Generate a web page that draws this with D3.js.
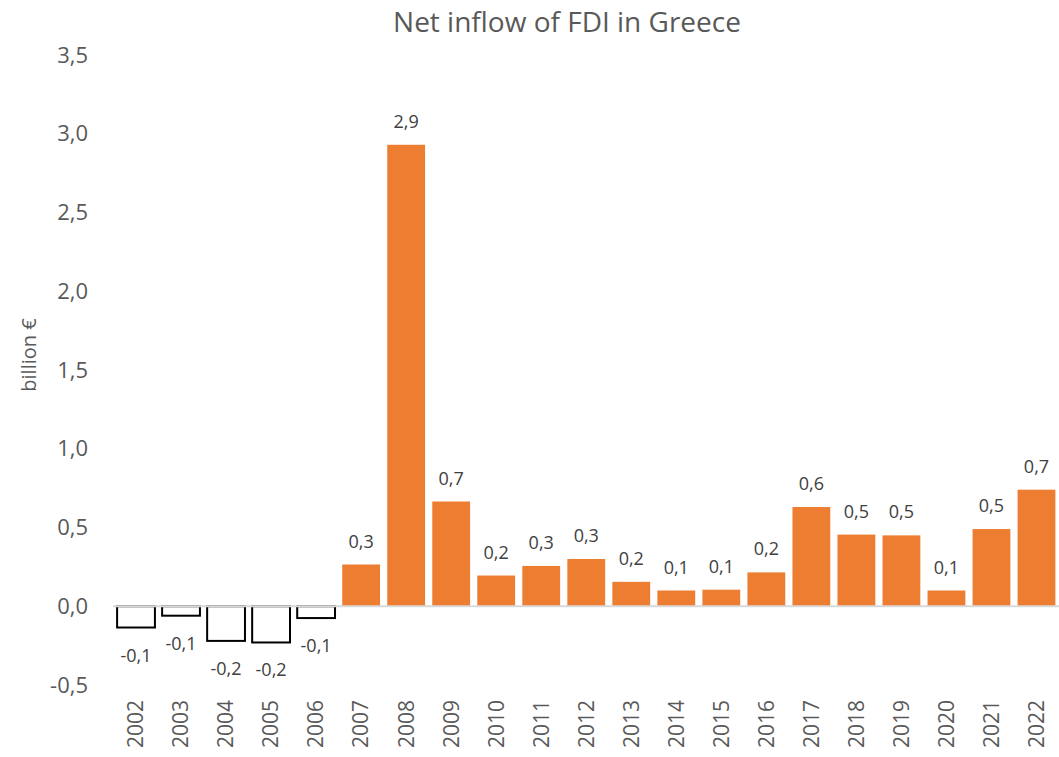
<!DOCTYPE html>
<html>
<head>
<meta charset="utf-8">
<script src="https://cdn.jsdelivr.net/npm/d3@7"></script>
<style>
  body { margin: 0; background: #fff; }
  svg text { font-family: "Open Sans", sans-serif; }
</style>
</head>
<body>
<div id="chart"></div>
<script>
// data (billion €)
var years = ["2002","2003","2004","2005","2006","2007","2008","2009","2010","2011","2012",
             "2013","2014","2015","2016","2017","2018","2019","2020","2021","2022"];
var inflow = [-0.135, -0.06, -0.22, -0.23, -0.075, 0.265, 2.93, 0.665, 0.195, 0.256, 0.30,
              0.155, 0.10, 0.105, 0.215, 0.63, 0.455, 0.45, 0.10, 0.49, 0.74];
var yTicks = [-0.5, 0, 0.5, 1, 1.5, 2, 2.5, 3, 3.5];

var W = 1059, H = 757;

// comma decimal and plain hyphen, like the original
var fmt = function(v) {
  return d3.format(".1f")(v).replace(".", ",").replace("\u2212", "-");
};

var svg = d3.select('#chart').append('svg')
    .attr('width', W)
    .attr('height', H);

var x = d3.scaleBand()
    .domain(years)
    .range([113.5, 1059])
    .paddingInner(0.16)
    .paddingOuter(0.08);

var y = d3.scaleLinear()
    .domain([-0.5, 3.5])
    .range([685, 55]);

// title
svg.append('text')
    .attr('x', 567)
    .attr('y', 32)
    .attr('text-anchor', 'middle')
    .style('font-size', '28px')
    .style('fill', '#595959')
    .text('Net inflow of FDI in Greece');

// y axis (labels only)
var yAxis = svg.append('g')
    .attr('transform', 'translate(88,0)')
    .call(d3.axisLeft(y).tickValues(yTicks).tickFormat(fmt).tickSize(0).tickPadding(0));
yAxis.select('.domain').remove();
yAxis.selectAll('text')
    .style('font-family', '"Open Sans", sans-serif')
    .style('font-size', '22px')
    .style('fill', '#595959');

// y axis title
svg.append('text')
    .attr('transform', 'rotate(-90)')
    .attr('x', -355)
    .attr('y', 36)
    .attr('text-anchor', 'middle')
    .style('font-size', '20px')
    .style('fill', '#595959')
    .text('billion €');

// bars
svg.selectAll('.bar')
    .data(inflow)
    .enter().append('rect')
    .attr('class', 'bar')
    .attr('x', function(d, i) { return x(years[i]); })
    .attr('width', x.bandwidth())
    .attr('y', function(d) { return y(Math.max(0, d)); })
    .attr('height', function(d) { return Math.abs(y(d) - y(0)); })
    .attr('fill', function(d) { return d < 0 ? '#ffffff' : '#ED7D31'; })
    .attr('stroke', function(d) { return d < 0 ? '#000000' : 'none'; })
    .attr('stroke-width', 2);

// zero line
svg.append('line')
    .attr('x1', 113)
    .attr('x2', 1059)
    .attr('y1', y(0))
    .attr('y2', y(0))
    .attr('stroke', '#d9d9d9')
    .attr('stroke-width', 2);

// data labels
svg.selectAll('.lbl')
    .data(inflow)
    .enter().append('text')
    .attr('class', 'lbl')
    .attr('x', function(d, i) { return x(years[i]) + x.bandwidth() / 2; })
    .attr('y', function(d) { return d < 0 ? y(d) + 34 : y(d) - 17; })
    .attr('text-anchor', 'middle')
    .style('font-size', '18px')
    .style('fill', '#404040')
    .text(function(d) { return fmt(d); });

// x axis labels, rotated
var xAxis = svg.append('g')
    .attr('transform', 'translate(0,700)')
    .call(d3.axisBottom(x).tickSize(0).tickPadding(0));
xAxis.select('.domain').remove();
xAxis.selectAll('text')
    .attr('transform', 'rotate(-90)')
    .attr('x', 0)
    .attr('y', 0)
    .attr('dy', '0.35em')
    .attr('text-anchor', 'end')
    .style('font-family', '"Open Sans", sans-serif')
    .style('font-size', '21px')
    .style('fill', '#595959');
</script>
</body>
</html>
